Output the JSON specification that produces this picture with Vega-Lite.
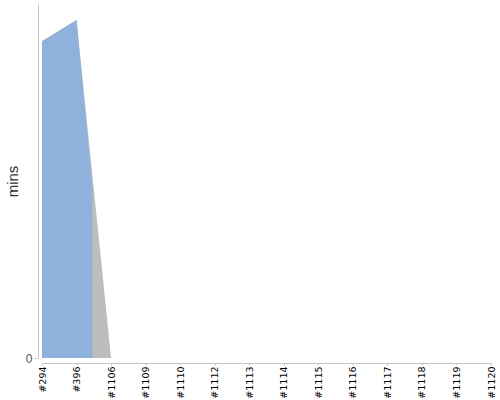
{
  "$schema": "https://vega.github.io/schema/vega-lite/v6.json",
  "width": 449,
  "height": 354,
  "autosize": "none",
  "padding": {"left": 42, "top": 4, "right": 9, "bottom": 42},
  "config": {"view": {"stroke": null}, "font": "Liberation Sans"},
  "datasets": {
    "gray": [
      {"build": "#294", "mins": 89.5},
      {"build": "#396", "mins": 95.5},
      {"build": "#1106", "mins": 0},
      {"build": "#1109", "mins": 0},
      {"build": "#1110", "mins": 0},
      {"build": "#1112", "mins": 0},
      {"build": "#1113", "mins": 0},
      {"build": "#1114", "mins": 0},
      {"build": "#1115", "mins": 0},
      {"build": "#1116", "mins": 0},
      {"build": "#1117", "mins": 0},
      {"build": "#1118", "mins": 0},
      {"build": "#1119", "mins": 0},
      {"build": "#1120", "mins": 0}
    ],
    "blue": [
      {"pos": 0, "mins": 89.5},
      {"pos": 1, "mins": 95.5},
      {"pos": 1.46, "mins": 48},
      {"pos": 1.46, "mins": 0}
    ]
  },
  "layer": [
    {
      "data": {"name": "gray"},
      "mark": {"type": "area", "color": "#bdbdbd", "opacity": 1},
      "encoding": {
        "x": {
          "field": "build",
          "type": "ordinal",
          "sort": null,
          "scale": {"type": "point", "padding": 0},
          "axis": {
            "title": null,
            "offset": 5,
            "domainColor": "#c4c4c4",
            "tickColor": "#c4c4c4",
            "tickSize": 2,
            "labelPadding": 1,
            "labelAngle": 270,
            "labelAlign": "right",
            "labelBaseline": "middle",
            "labelFont": "DejaVu Sans",
            "labelFontSize": 9.5,
            "labelColor": "#000000"
          }
        },
        "y": {
          "field": "mins",
          "type": "quantitative",
          "scale": {"domain": [0, 100], "nice": false},
          "axis": {
            "values": [0],
            "grid": false,
            "offset": 4,
            "domainColor": "#c4c4c4",
            "tickColor": "#c4c4c4",
            "tickSize": 4,
            "labelColor": "#555555",
            "labelFontSize": 12,
            "title": "mins",
            "titleFontSize": 15,
            "titleFontWeight": "normal",
            "titleColor": "#333333",
            "titlePadding": 5
          }
        }
      }
    },
    {
      "data": {"name": "blue"},
      "mark": {"type": "area", "color": "#8fb2dc", "opacity": 1},
      "encoding": {
        "x": {
          "field": "pos",
          "type": "quantitative",
          "scale": {"domain": [0, 13], "nice": false, "zero": false},
          "axis": null
        },
        "y": {"field": "mins", "type": "quantitative"}
      }
    }
  ],
  "resolve": {"scale": {"x": "independent"}}
}
